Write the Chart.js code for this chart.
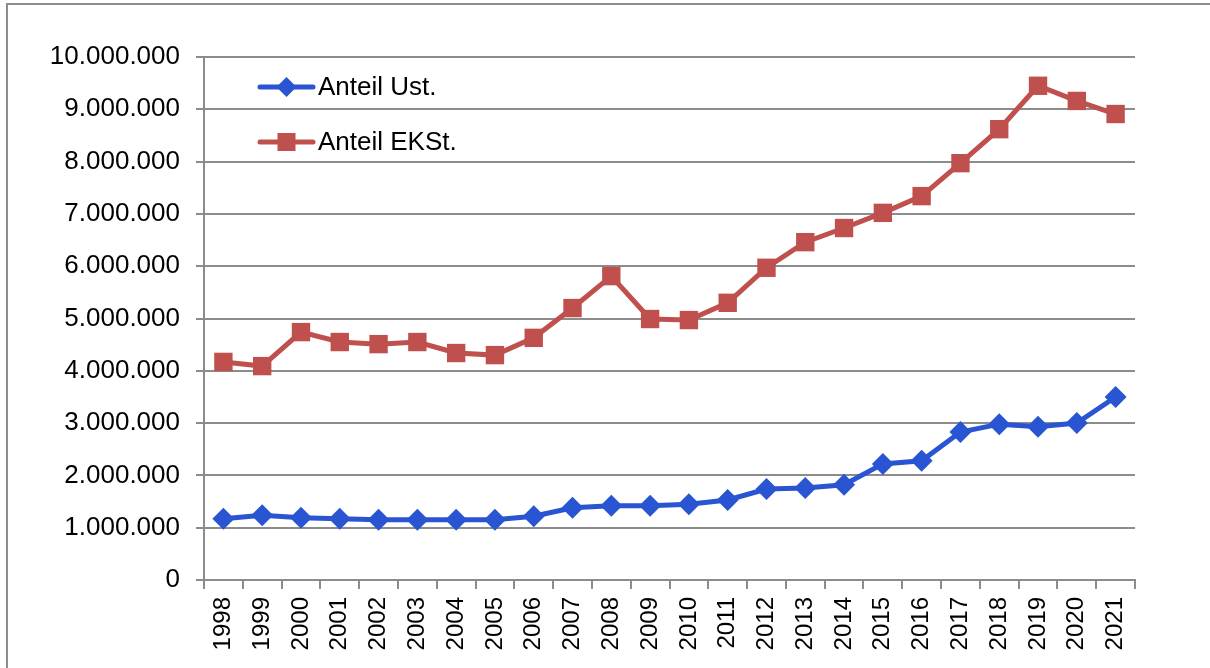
<!DOCTYPE html>
<html>
<head>
<meta charset="utf-8">
<script src="https://cdn.jsdelivr.net/npm/chart.js@4"></script>
<style>
  html, body { margin: 0; padding: 0; background: #fff; overflow: hidden; }
  #frame { position: absolute; left: 6px; top: 3px; width: 1300px; height: 800px; border: 2px solid #8c8c8c; box-sizing: border-box; }
  #wrap { position: absolute; left: 0; top: 0; width: 1210px; height: 668px; }
</style>
</head>
<body>
<div id="frame"></div>
<div id="wrap"><canvas id="chart" width="1210" height="668"></canvas></div>
<script>
const years = ["1998","1999","2000","2001","2002","2003","2004","2005","2006","2007","2008","2009",
               "2010","2011","2012","2013","2014","2015","2016","2017","2018","2019","2020","2021"];
const anteilUst = [1170000, 1240000, 1190000, 1170000, 1150000, 1150000, 1150000, 1150000, 1220000, 1380000, 1420000, 1420000,
                   1450000, 1530000, 1740000, 1760000, 1820000, 2220000, 2280000, 2830000, 2980000, 2930000, 3000000, 3500000];
const anteilEKSt = [4170000, 4090000, 4740000, 4550000, 4510000, 4550000, 4340000, 4300000, 4630000, 5200000, 5810000, 4990000,
                    4970000, 5300000, 5970000, 6460000, 6730000, 7020000, 7340000, 7970000, 8620000, 9450000, 9160000, 8910000];

const blue = "#2a55d2";
const red = "#c0504d";
const font = "'Liberation Sans', Arial, sans-serif";

// legend drawn inside the plot area, top left
const innerLegend = {
  id: "innerLegend",
  afterDraw(chart) {
    const ctx = chart.ctx;
    const items = chart.data.datasets;
    ctx.save();
    items.forEach((ds, i) => {
      const y = 87 + i * 55;
      const x0 = 260, x1 = 313;
      ctx.strokeStyle = ds.borderColor;
      ctx.lineWidth = 5;
      ctx.lineCap = "round";
      ctx.beginPath();
      ctx.moveTo(x0, y);
      ctx.lineTo(x1, y);
      ctx.stroke();
      ctx.fillStyle = ds.backgroundColor;
      const cx = (x0 + x1) / 2;
      if (ds.pointStyle === "rectRot") {
        ctx.beginPath();
        ctx.moveTo(cx, y - 10);
        ctx.lineTo(cx + 10, y);
        ctx.lineTo(cx, y + 10);
        ctx.lineTo(cx - 10, y);
        ctx.closePath();
        ctx.fill();
      } else {
        ctx.fillRect(cx - 9, y - 9, 18, 18);
      }
      ctx.fillStyle = "#000";
      ctx.font = "26px " + font;
      ctx.textBaseline = "middle";
      ctx.textAlign = "left";
      ctx.fillText(ds.label, 318, y + 1);
    });
    ctx.restore();
  }
};

new Chart(document.getElementById("chart"), {
  type: "line",
  data: {
    labels: years,
    datasets: [
      {
        label: "Anteil Ust.",
        data: anteilUst,
        borderColor: blue,
        backgroundColor: blue,
        borderWidth: 5,
        pointStyle: "rectRot",
        pointRadius: 11,
        pointHoverRadius: 11,
        pointBorderWidth: 0,
        tension: 0
      },
      {
        label: "Anteil EKSt.",
        data: anteilEKSt,
        borderColor: red,
        backgroundColor: red,
        borderWidth: 5,
        pointStyle: "rect",
        pointRadius: 13,
        pointHoverRadius: 13,
        pointBorderWidth: 0,
        tension: 0
      }
    ]
  },
  options: {
    responsive: false,
    animation: false,
    layout: { padding: { left: 0, top: 57, right: 75, bottom: 0 } },
    plugins: {
      legend: { display: false },
      tooltip: { enabled: false }
    },
    scales: {
      x: {
        offset: true,
        grid: {
          offset: true,
          drawOnChartArea: false,
          color: "#8c8c8c",
          lineWidth: 2,
          tickLength: 9
        },
        border: { color: "#8c8c8c", width: 2 },
        ticks: {
          color: "#000",
          font: { family: font, size: 24 },
          maxRotation: 90,
          minRotation: 90,
          autoSkip: false,
          padding: 8
        },
        afterFit(scale) { scale.height = 88; }
      },
      y: {
        min: 0,
        max: 10000000,
        grid: {
          color: "#8c8c8c",
          lineWidth: 2,
          tickLength: 8
        },
        border: { color: "#8c8c8c", width: 2 },
        ticks: {
          stepSize: 1000000,
          color: "#000",
          font: { family: font, size: 26 },
          padding: 16,
          callback: v => v.toLocaleString("de-DE")
        },
        afterFit(scale) { scale.width = 204; }
      }
    }
  },
  plugins: [innerLegend]
});
</script>
</body>
</html>
